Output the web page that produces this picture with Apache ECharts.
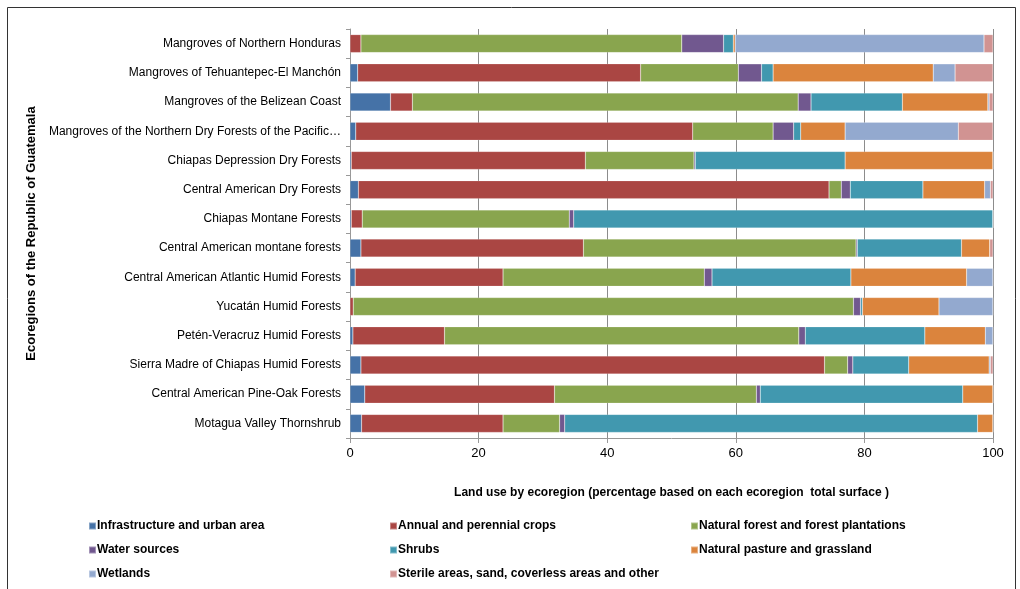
<!DOCTYPE html>
<html>
<head>
<meta charset="utf-8">
<script src="https://cdn.jsdelivr.net/npm/echarts@6/dist/echarts.min.js"></script>
<style>
  html, body { margin: 0; padding: 0; background: #fff; }
  #chart { width: 1020px; height: 589px; }
</style>
</head>
<body>
<div id="chart"></div>
<script>
// ecoregions, top to bottom
var ecoregions = [
  'Mangroves of Northern Honduras',
  'Mangroves of Tehuantepec-El Manchón',
  'Mangroves of the Belizean Coast',
  'Mangroves of the Northern Dry Forests of the Pacific…',
  'Chiapas Depression Dry Forests',
  'Central American Dry Forests',
  'Chiapas Montane Forests',
  'Central American montane forests',
  'Central American Atlantic Humid Forests',
  'Yucatán Humid Forests',
  'Petén-Veracruz Humid Forests',
  'Sierra Madre of Chiapas Humid Forests',
  'Central American Pine-Oak Forests',
  'Motagua Valley Thornshrub'
]

// land use shares (%) per ecoregion, same order as above
var infrastructure = [0, 1.2, 6.3, 0.9, 0.2, 1.3, 0.2, 1.7, 0.8, 0, 0.45, 1.7, 2.3, 1.8]
var crops = [1.7, 44.0, 3.4, 52.4, 36.4, 73.2, 1.7, 34.6, 23.0, 0.5, 14.25, 72.1, 29.5, 22.0]
var forest = [49.9, 15.2, 60.0, 12.5, 16.9, 1.9, 32.2, 42.4, 31.3, 77.8, 55.1, 3.6, 31.4, 8.8]
var water = [6.5, 3.6, 2.0, 3.2, 0.2, 1.4, 0.7, 0.2, 1.2, 1.1, 1.0, 0.8, 0.6, 0.8]
var shrubs = [1.5, 1.8, 14.2, 1.1, 23.3, 11.3, 65.2, 16.2, 21.6, 0.3, 18.6, 8.7, 31.5, 64.2]
var pasture = [0.3, 24.9, 13.3, 6.9, 23.0, 9.6, 0, 4.4, 18.0, 11.9, 9.4, 12.5, 4.7, 2.4]
var wetlands = [38.7, 3.4, 0.2, 17.6, 0, 0.9, 0, 0, 4.1, 8.4, 1.2, 0.2, 0, 0]
var sterile = [1.4, 5.9, 0.6, 5.4, 0, 0.4, 0, 0.5, 0, 0, 0, 0.4, 0, 0]

var names = [
  'Infrastructure and urban area',
  'Annual and perennial crops',
  'Natural forest and forest plantations',
  'Water sources',
  'Shrubs',
  'Natural pasture and grassland',
  'Wetlands',
  'Sterile areas, sand, coverless areas and other'
]
var values = [infrastructure, crops, forest, water, shrubs, pasture, wetlands, sterile]
var color = ['#4572A7', '#AA4643', '#89A54E', '#71588F', '#4198AF', '#DB843D', '#93A9CF', '#D19392']

var chart = echarts.init(document.getElementById('chart'))

var series = names.map(function(n, i) {
  return {
    name: n,
    type: 'bar',
    stack: 'total',
    barWidth: 18,
    data: values[i],
    itemStyle: { color: color[i], borderColor: 'rgba(255,255,255,0.35)', borderWidth: 0.5 },
    emphasis: { disabled: true }
  }
})

function legendCol(left, items) {
  return {
    orient: 'vertical',
    left: left,
    top: 519,
    padding: 0,
    itemWidth: 7,
    itemHeight: 7,
    itemGap: 10,
    icon: 'rect',
    data: items,
    selectedMode: false,
    textStyle: {
      fontFamily: 'Liberation Sans Narrow, Liberation Sans, Arial',
      fontWeight: 'bold',
      fontSize: 12,
      color: '#000',
      padding: [0, 0, 0, -4],
      lineHeight: 14
    }
  }
}

var option = {
  animation: false,
  color: color,
  textStyle: { fontFamily: 'Liberation Sans, Arial' },
  grid: { left: 350, right: 27, top: 29, bottom: 151 },
  xAxis: {
    type: 'value',
    min: 0,
    max: 100,
    interval: 20,
    name: 'Land use by ecoregion (percentage based on each ecoregion  total surface )',
    nameLocation: 'middle',
    nameGap: 49,
    nameTextStyle: { fontWeight: 'bold', fontSize: 12, color: '#000' },
    axisLine: { show: true, lineStyle: { color: '#999' } },
    axisTick: { show: true, length: 5, lineStyle: { color: '#999' } },
    axisLabel: { fontSize: 13, color: '#000', margin: 9 },
    splitLine: { show: true, lineStyle: { color: '#8c8c8c', width: 1 } }
  },
  yAxis: {
    type: 'category',
    data: ecoregions,
    inverse: true,
    name: 'Ecoregions of the Republic of Guatemala',
    nameLocation: 'middle',
    nameGap: 312,
    nameRotate: 90,
    nameTextStyle: { fontWeight: 'bold', fontSize: 13, color: '#000' },
    axisLine: { show: true, lineStyle: { color: '#999' } },
    axisTick: { show: true, length: 4, lineStyle: { color: '#999' } },
    axisLabel: { fontSize: 12, color: '#000', margin: 9 }
  },
  legend: [
    legendCol(88, [names[0], names[3], names[6]]),
    legendCol(389, [names[1], names[4], names[7]]),
    legendCol(690, [names[2], names[5]])
  ],
  graphic: [{
    type: 'rect',
    shape: { x: 7.5, y: 7.5, width: 1008, height: 600 },
    style: { fill: 'none', stroke: '#333', lineWidth: 1 },
    silent: true
  }],
  series: series
}

chart.setOption(option)
window.addEventListener('resize', function() {
  chart.resize()
})
</script>
</body>
</html>
